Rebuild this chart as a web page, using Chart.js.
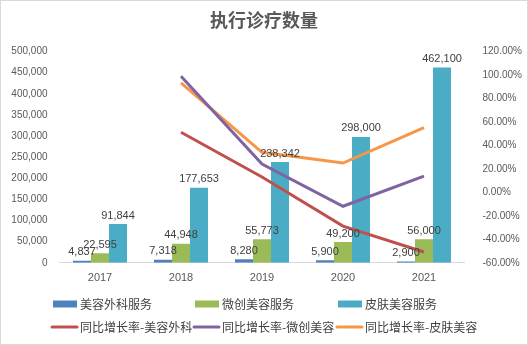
<!DOCTYPE html>
<html>
<head>
<meta charset="utf-8">
<script src="https://cdn.jsdelivr.net/npm/chart.js@4"></script>
<style>
  html, body { margin: 0; padding: 0; background: #fff; }
  #wrap { width: 528px; height: 345px; position: relative; }
</style>
</head>
<body>
<div id="wrap"><canvas id="chart" width="528" height="345"></canvas></div>
<script>
// ====== Datos ======
const YEARS = ['2017', '2018', '2019', '2020', '2021'];
const SURGERY = [4837, 7318, 8280, 5900, 2900];
const MINIMAL = [22595, 44948, 55773, 49200, 56000];
const SKIN = [91844, 177653, 238342, 298000, 462100];
// growth rates (%), no value for 2017
const GROWTH_SURGERY = [null, 51.3, 13.1, -28.7, -50.8];
const GROWTH_MINIMAL = [null, 98.9, 24.1, -11.8, 13.8];
const GROWTH_SKIN = [null, 93.4, 34.2, 25.0, 55.1];

const LEFT_TICKS = { min: 0, max: 500000, step: 50000 };
const RIGHT_TICKS = { min: -60, max: 120, step: 20 };

const BLUE = '#4F81BD', GREEN = '#9BBB59', TEAL = '#4BACC6';
const RED = '#C0504D', PURPLE = '#8064A2', ORANGE = '#F79646';

const NUM_FONT = 'Liberation Sans, Arial, sans-serif';
const CJK_FONT = '"Noto Sans CJK SC", sans-serif';
const fmt = new Intl.NumberFormat('en-US');

// ====== Plugins ======
const frame = {
  id: 'frame',
  beforeDraw(chart) {
    const { ctx, width, height } = chart;
    ctx.save();
    ctx.fillStyle = '#fff';
    ctx.fillRect(0, 0, width, height);
    ctx.strokeStyle = '#D9D9D9';
    ctx.lineWidth = 1;
    ctx.strokeRect(0.5, 0.5, width - 1, height - 1);
    ctx.restore();
  }
};

const barLabels = {
  id: 'barLabels',
  afterDatasetsDraw(chart) {
    const { ctx } = chart;
    ctx.save();
    ctx.font = '11px ' + NUM_FONT;
    ctx.fillStyle = '#404040';
    ctx.textAlign = 'center';
    ctx.textBaseline = 'bottom';
    chart.data.datasets.forEach((ds, i) => {
      if (ds.type !== 'bar') return;
      chart.getDatasetMeta(i).data.forEach((bar, j) => {
        ctx.fillText(fmt.format(ds.data[j]), bar.x, bar.y - 3);
      });
    });
    ctx.restore();
  }
};

// legend drawn in a fixed 3-column grid like the original
const gridLegend = {
  id: 'gridLegend',
  afterDraw(chart) {
    const { ctx } = chart;
    const cols = [52, 194, 337];
    const rows = [304, 327];
    ctx.save();
    ctx.font = '12px ' + CJK_FONT;
    ctx.textBaseline = 'middle';
    ctx.textAlign = 'left';
    chart.data.datasets.forEach((ds, i) => {
      const x = cols[i % 3];
      const y = rows[Math.floor(i / 3)];
      if (ds.type === 'bar') {
        ctx.fillStyle = ds.backgroundColor;
        ctx.fillRect(x + 1, y - 3.5, 24, 7);
      } else {
        ctx.strokeStyle = ds.borderColor;
        ctx.lineWidth = 3;
        ctx.lineCap = 'round';
        ctx.beginPath();
        ctx.moveTo(x, y);
        ctx.lineTo(x + 25, y);
        ctx.stroke();
      }
      ctx.fillStyle = '#404040';
      ctx.fillText(ds.label, x + 28, y);
    });
    ctx.restore();
  }
};

const bar = (label, data, color) => ({
  type: 'bar', label, data, backgroundColor: color, yAxisID: 'y', order: 2,
  categoryPercentage: 0.667, barPercentage: 1
});
const line = (label, data, color) => ({
  type: 'line', label, data, borderColor: color, backgroundColor: color,
  borderWidth: 3, pointRadius: 0, tension: 0, yAxisID: 'y1', order: 1, spanGaps: false
});

new Chart(document.getElementById('chart'), {
  data: {
    labels: YEARS,
    datasets: [
      bar('美容外科服务', SURGERY, BLUE),
      bar('微创美容服务', MINIMAL, GREEN),
      bar('皮肤美容服务', SKIN, TEAL),
      line('同比增长率-美容外科', GROWTH_SURGERY, RED),
      line('同比增长率-微创美容', GROWTH_MINIMAL, PURPLE),
      line('同比增长率-皮肤美容', GROWTH_SKIN, ORANGE)
    ]
  },
  options: {
    responsive: false,
    animation: false,
    devicePixelRatio: 1,
    layout: { padding: { top: 0, bottom: 51, left: 0, right: 0 } },
    plugins: {
      legend: { display: false },
      tooltip: { enabled: false },
      title: {
        display: true,
        text: '执行诊疗数量',
        color: '#595959',
        font: { family: CJK_FONT, size: 18, weight: 'bold' },
        padding: { top: 9, bottom: 21 }
      }
    },
    scales: {
      x: {
        grid: { display: false, drawTicks: false },
        border: { display: true, color: '#D9D9D9' },
        ticks: { color: '#595959', font: { family: NUM_FONT, size: 11 }, padding: 9 }
      },
      y: {
        position: 'left',
        min: LEFT_TICKS.min, max: LEFT_TICKS.max,
        grid: { display: false, drawTicks: false },
        border: { display: false },
        ticks: {
          stepSize: LEFT_TICKS.step, color: '#595959', padding: 12,
          font: { family: NUM_FONT, size: 10 },
          callback: v => fmt.format(v)
        },
        afterFit: s => { s.width = 59.5; }
      },
      y1: {
        position: 'right',
        min: RIGHT_TICKS.min, max: RIGHT_TICKS.max,
        grid: { display: false, drawTicks: false },
        border: { display: false },
        ticks: {
          stepSize: RIGHT_TICKS.step, color: '#595959', padding: 18,
          font: { family: NUM_FONT, size: 10 },
          callback: v => v.toFixed(2) + '%'
        },
        afterFit: s => { s.width = 63.5; }
      }
    }
  },
  plugins: [frame, barLabels, gridLegend]
});
</script>
</body>
</html>
